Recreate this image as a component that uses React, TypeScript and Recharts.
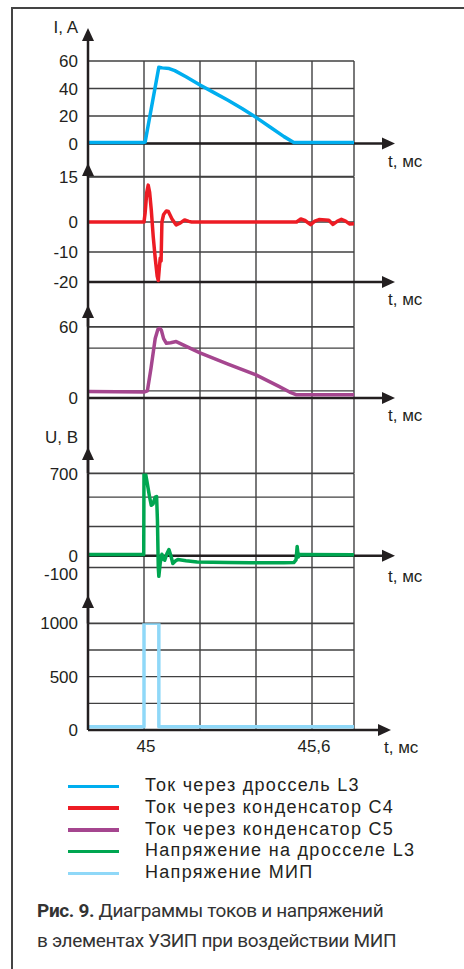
import React from 'react';
import { CartesianGrid, Line, LineChart, ReferenceLine, XAxis, YAxis } from 'recharts';

// time axis, ms
const X_MIN = 44.8;
const X_MAX = 45.75;
const xGrid = [45, 45.2, 45.4, 45.6, 45.75];
const xLabels = [45, 45.6];

// Ток через дроссель L3, A
const tL3 = [44.8, 45.0, 45.004, 45.053, 45.065, 45.09, 45.11, 45.15, 45.2, 45.25, 45.3, 45.35, 45.4, 45.45, 45.5, 45.535, 45.75];
const iL3 = [0.8, 0.8, 1, 55.5, 55, 54.5, 53, 48.5, 42.5, 37, 31.5, 25.5, 19, 12, 5, 0.8, 0.8];

// Ток через конденсатор C4, A
const tC4 = [44.8, 45.0, 45.004, 45.01, 45.015, 45.02, 45.026, 45.033, 45.04, 45.047, 45.051, 45.055, 45.058, 45.061, 45.064, 45.07, 45.08, 45.087, 45.1, 45.115, 45.13, 45.145, 45.16, 45.17, 45.545, 45.56, 45.575, 45.595, 45.61, 45.625, 45.66, 45.675, 45.69, 45.705, 45.72, 45.735, 45.75];
const iC4 = [0, 0, 3, 10, 12.3, 10, 4, -5, -12, -18, -19.5, -15, -12, -13, 0, 2.5, 3.7, 3.5, 1, -1, -0.3, 0.7, 0.2, 0, 0, 1, 0.5, -0.9, 0.3, 0.8, 0.6, -0.8, 0.2, 0.9, 0.3, -0.7, -0.6];

// Ток через конденсатор C5, A
const tC5 = [44.8, 45.0, 45.012, 45.025, 45.04, 45.05, 45.056, 45.062, 45.07, 45.08, 45.095, 45.115, 45.2, 45.3, 45.4, 45.48, 45.52, 45.545, 45.75];
const iC5 = [5.5, 5, 6, 25, 50, 58, 59, 57, 50, 46, 46.5, 47.5, 38, 28.5, 19.5, 10, 5, 2.7, 2.7];

// Напряжение на дросселе L3, B
const tUL3 = [44.8, 44.999, 45.0, 45.004, 45.01, 45.02, 45.026, 45.032, 45.04, 45.045, 45.048, 45.051, 45.053, 45.058, 45.064, 45.07, 45.074, 45.082, 45.089, 45.096, 45.103, 45.112, 45.121, 45.15, 45.19, 45.3, 45.38, 45.5, 45.535, 45.543, 45.547, 45.551, 45.556, 45.75];
const uL3 = [10, 10, 760, 720, 640, 500, 430, 440, 500, 505, 300, -100, -175, -60, 13, -30, -38, 20, 53, 0, -66, -45, -32, -42, -53, -58, -60, -60, -58, -35, 80, -10, 12, 8];

// Напряжение МИП, B
const tMIP = [44.8, 45.0, 45.0, 45.053, 45.053, 45.75];
const uMIP = [30, 30, 1000, 1000, 30, 30];

const seriesNames = [
  'Ток через дроссель L3',
  'Ток через конденсатор C4',
  'Ток через конденсатор C5',
  'Напряжение на дросселе L3',
  'Напряжение МИП',
];
const seriesColors = ['#00aeef', '#ed1c24', '#a5468f', '#00a651', '#8fd8f8'];

const INK = '#231f20';
const GRID = '#404041';
const FONT = '"Liberation Sans", Arial, sans-serif';

// page geometry of the stacked panels (px)
const PLOT_LEFT = 88;
const PLOT_RIGHT = 354;
const X_AXIS_H = 30;

const panels = [
  { t: tL3, v: iL3, ticks: [0, 20, 40, 60], labels: [0, 20, 40, 60], axisAt: 0, yLabel: 'I, A', yLabelDy: 5,
    top: 61, zero: 143.5, bottom: 176.5, tip: 28, xTip: 395, tDy: 23 },
  { t: tC4, v: iC4, ticks: [-20, -10, 0, 15], labels: [-20, -10, 0, 15], axisAt: -20, yLabel: '', yLabelDy: 0,
    top: 177, zero: 222, bottom: 326.7, tip: 163, xTip: 395, tDy: 23 },
  { t: tC5, v: iC5, ticks: [0, 6, 42, 60], labels: [0, 60], axisAt: 0, yLabel: '', yLabelDy: 0,
    top: 326.7, zero: 398, bottom: 473.3, tip: 305, xTip: 395, tDy: 23 },
  { t: tUL3, v: uL3, ticks: [-100, 0, 250, 500, 700], labels: [-100, 0, 700], axisAt: 0, yLabel: 'U, B', yLabelDy: -3.5,
    top: 473.3, zero: 555.5, bottom: 623.3, tip: 446.7, xTip: 395, tDy: 26 },
  { t: tMIP, v: uMIP, ticks: [0, 250, 500, 750, 1000], labels: [0, 500, 1000], axisAt: 0, yLabel: '', yLabelDy: 0,
    top: 623.3, zero: 730, bottom: 730, tip: 595, xTip: 391, tDy: 23 },
];

// the -100 label sits a little lower, as in the original print
const labelShift: Record<number, number> = { [-100]: 6 };

const Arrow = (p: any) => {
  const { x1, y1, x2, y2, label, ldx = 0, ldy = 0, anchor = 'start' } = p;
  const len = Math.hypot(x2 - x1, y2 - y1) || 1;
  const ux = (x2 - x1) / len;
  const uy = (y2 - y1) / len;
  const L = 13;
  const W = 6;
  const bx = x2 - ux * L;
  const by = y2 - uy * L;
  const pts = `${x2},${y2} ${bx - uy * W},${by + ux * W} ${bx + uy * W},${by - ux * W}`;
  return (
    <g>
      <line x1={x1} y1={y1} x2={bx + ux} y2={by + uy} stroke={INK} strokeWidth={2.5} />
      <polygon points={pts} fill={INK} />
      {label ? (
        <text x={x2 + ldx} y={y2 + ldy} textAnchor={anchor} fontSize={17} fontFamily={FONT} fill={INK}>
          {label}
        </text>
      ) : null}
    </g>
  );
};

const Panel = ({ cfg, index }: { cfg: (typeof panels)[number]; index: number }) => {
  const max = cfg.ticks[cfg.ticks.length - 1];
  const pxPerUnit = (cfg.zero - cfg.top) / max;
  const lo = -(cfg.bottom - cfg.zero) / pxPerUnit;
  const tipVal = (cfg.zero - cfg.tip) / pxPerUnit;
  const msPerPx = (X_MAX - X_MIN) / (PLOT_RIGHT - PLOT_LEFT);
  const xTipVal = X_MIN + (cfg.xTip - PLOT_LEFT) * msPerPx;
  const chartTop = cfg.tip - 20;
  const height = cfg.bottom - chartTop + X_AXIS_H + 4;
  const data = cfg.t.map((t, i) => ({ t, v: cfg.v[i] }));
  const last = index === panels.length - 1;

  const yTick = (p: any) => {
    const val = p.payload.value;
    if (!cfg.labels.includes(val)) return <g />;
    return (
      <text x={p.x} y={p.y + (labelShift[val] || 0)} dy="0.355em" textAnchor="end"
        fontSize={17} fontFamily={FONT} fill={INK}>
        {val}
      </text>
    );
  };

  return (
    <div style={{ position: 'absolute', left: 0, top: chartTop }}>
      <LineChart width={464} height={height} data={data}
        margin={{ top: cfg.top - chartTop, right: 464 - PLOT_RIGHT, bottom: 4, left: 8 }}>
        <CartesianGrid stroke={GRID} strokeWidth={1.4} />
        <XAxis dataKey="t" type="number" domain={[X_MIN, X_MAX]} allowDataOverflow ticks={xGrid} interval={0}
          height={X_AXIS_H} axisLine={false} tickLine={false} tickMargin={4}
          tick={{ fill: INK, fontSize: 17, fontFamily: FONT, dx: 2 }}
          tickFormatter={(v: number) => (last && xLabels.includes(v) ? String(v).replace('.', ',') : '')} />
        <YAxis type="number" domain={[lo, max]} allowDataOverflow ticks={cfg.ticks} interval={0} width={80}
          axisLine={{ stroke: INK, strokeWidth: 2.5 }} tickLine={false} tickMargin={4} tick={yTick} />
        <ReferenceLine ifOverflow="visible" segment={[{ x: X_MIN, y: max }, { x: X_MIN, y: tipVal }]}
          shape={(p: any) => <Arrow {...p} label={cfg.yLabel} ldx={-10} ldy={cfg.yLabelDy} anchor="end" />} />
        <ReferenceLine ifOverflow="visible" segment={[{ x: X_MIN, y: cfg.axisAt }, { x: xTipVal, y: cfg.axisAt }]}
          shape={(p: any) => <Arrow {...p} label="t, мс" ldx={-7} ldy={cfg.tDy} anchor="start" />} />
        <Line type="linear" dataKey="v" stroke={seriesColors[index]} strokeWidth={3.5} dot={false}
          strokeLinejoin="round" isAnimationActive={false} />
      </LineChart>
    </div>
  );
};

export default function App() {
  return (
    <div style={{ position: 'absolute', left: 0, top: 0, width: 464, height: 969, background: '#fff', overflow: 'hidden' }}>
      <div style={{ position: 'absolute', left: 11, top: 7, width: 470, height: 980,
        borderTop: '2px solid #444', borderLeft: '2px solid #444' }} />
      {panels.map((cfg, i) => (
        <Panel key={i} cfg={cfg} index={i} />
      ))}
      <div style={{ position: 'absolute', left: 68, top: 775, fontFamily: FONT, fontSize: 18, color: INK }}>
        {seriesNames.map((name, i) => (
          <div key={name} style={{ position: 'relative', height: 21.8, lineHeight: '21.8px' }}>
            <div style={{ position: 'absolute', left: 0, top: 9.5, width: 51, height: 3.5, background: seriesColors[i] }} />
            <div style={{ position: 'absolute', left: 77, top: 0, whiteSpace: 'nowrap', letterSpacing: 1.3 }}>{name}</div>
          </div>
        ))}
      </div>
      <div style={{ position: 'absolute', left: 37, top: 896, fontFamily: 'Roboto, sans-serif', fontSize: 19,
        lineHeight: '30px', color: '#333', letterSpacing: -0.35 }}>
        <div style={{ whiteSpace: 'nowrap' }}>
          <span style={{ fontWeight: 700 }}>Рис. 9.</span> Диаграммы токов и напряжений
        </div>
        <div style={{ whiteSpace: 'nowrap' }}>в элементах УЗИП при воздействии МИП</div>
      </div>
    </div>
  );
}
